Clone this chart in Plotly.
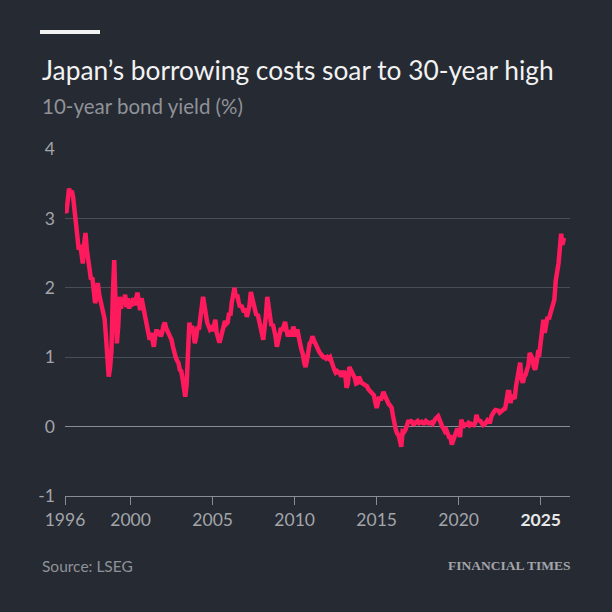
import pandas as pd
import plotly.graph_objects as go

# Monthly 10-year JGB yield (%), Jan 1996 onwards
y1996 = [3.12, 3.08, 3.25, 3.43, 3.35, 3.40, 3.30, 3.05, 2.98, 2.75, 2.55, 2.62]
y1997 = [2.50, 2.35, 2.62, 2.79, 2.55, 2.40, 2.30, 2.12, 2.15, 1.95, 1.78, 1.85]
y1998 = [2.07, 1.90, 1.80, 1.72, 1.64, 1.55, 1.30, 1.05, 0.72, 0.85, 1.10, 1.90]
y1999 = [2.40, 1.75, 1.20, 1.45, 1.87, 1.70, 1.85, 1.78, 1.90, 1.72, 1.85, 1.70]
y2000 = [1.80, 1.78, 1.85, 1.75, 1.90, 1.93, 1.80, 1.68, 1.85, 1.75, 1.70, 1.60]
y2001 = [1.50, 1.40, 1.25, 1.35, 1.28, 1.15, 1.30, 1.40, 1.32, 1.38, 1.30, 1.35]
y2002 = [1.45, 1.50, 1.42, 1.38, 1.35, 1.30, 1.25, 1.15, 1.05, 1.00, 0.95, 0.92]
y2003 = [0.82, 0.80, 0.70, 0.60, 0.43, 0.60, 1.00, 1.50, 1.35, 1.45, 1.35, 1.20]
y2004 = [1.30, 1.44, 1.40, 1.55, 1.70, 1.87, 1.75, 1.58, 1.50, 1.45, 1.40, 1.42]
y2005 = [1.38, 1.45, 1.54, 1.35, 1.25, 1.21, 1.28, 1.35, 1.44, 1.52, 1.48, 1.50]
y2006 = [1.64, 1.60, 1.78, 1.92, 2.00, 1.87, 1.90, 1.80, 1.72, 1.75, 1.68, 1.65]
y2007 = [1.70, 1.58, 1.65, 1.75, 1.94, 1.85, 1.73, 1.65, 1.60, 1.62, 1.50, 1.44]
y2008 = [1.35, 1.25, 1.40, 1.60, 1.87, 1.70, 1.54, 1.45, 1.48, 1.40, 1.30, 1.15]
y2009 = [1.25, 1.30, 1.42, 1.38, 1.48, 1.51, 1.40, 1.30, 1.35, 1.38, 1.30, 1.44]
y2010 = [1.38, 1.30, 1.40, 1.25, 1.20, 1.11, 1.05, 0.92, 0.86, 0.95, 1.15, 1.20]
y2011 = [1.22, 1.30, 1.25, 1.20, 1.15, 1.11, 1.08, 1.05, 1.02, 1.00, 1.00, 0.98]
y2012 = [1.00, 0.98, 1.00, 0.92, 0.85, 0.82, 0.78, 0.80, 0.78, 0.78, 0.72, 0.78]
y2013 = [0.80, 0.75, 0.56, 0.62, 0.86, 0.82, 0.78, 0.72, 0.70, 0.62, 0.63, 0.72]
y2014 = [0.65, 0.63, 0.62, 0.61, 0.60, 0.58, 0.54, 0.52, 0.51, 0.49, 0.45, 0.35]
y2015 = [0.27, 0.35, 0.43, 0.38, 0.45, 0.50, 0.45, 0.40, 0.36, 0.32, 0.30, 0.27]
y2016 = [0.15, 0.00, -0.04, -0.10, -0.12, -0.20, -0.29, -0.07, -0.08, -0.05, 0.02, 0.07]
y2017 = [0.07, 0.08, 0.07, 0.02, 0.05, 0.07, 0.08, 0.05, 0.06, 0.07, 0.05, 0.05]
y2018 = [0.08, 0.06, 0.05, 0.05, 0.06, 0.04, 0.10, 0.11, 0.13, 0.15, 0.10, 0.02]
y2019 = [0.00, -0.03, -0.07, -0.05, -0.09, -0.15, -0.15, -0.26, -0.20, -0.12, -0.09, -0.03]
y2020 = [-0.06, -0.15, 0.10, 0.03, 0.01, 0.03, 0.03, 0.05, 0.02, 0.04, 0.03, 0.02]
y2021 = [0.05, 0.17, 0.10, 0.09, 0.08, 0.05, 0.02, 0.03, 0.06, 0.09, 0.07, 0.07]
y2022 = [0.15, 0.20, 0.22, 0.24, 0.24, 0.23, 0.20, 0.22, 0.25, 0.25, 0.26, 0.42]
y2023 = [0.50, 0.50, 0.34, 0.45, 0.42, 0.40, 0.58, 0.72, 0.75, 0.92, 0.70, 0.63]
y2024 = [0.72, 0.75, 0.82, 0.88, 1.06, 1.00, 0.98, 0.86, 0.82, 0.92, 1.06, 1.05]
y2025 = [1.20, 1.35, 1.54, 1.35, 1.50, 1.58, 1.55, 1.62, 1.68, 1.75, 1.83, 2.10]
y2026 = [2.20, 2.35, 2.55, 2.78, 2.62, 2.72]

yields = (y1996 + y1997 + y1998 + y1999 + y2000 + y2001 + y2002 + y2003 + y2004
          + y2005 + y2006 + y2007 + y2008 + y2009 + y2010 + y2011 + y2012 + y2013
          + y2014 + y2015 + y2016 + y2017 + y2018 + y2019 + y2020 + y2021 + y2022
          + y2023 + y2024 + y2025 + y2026)
dates = pd.date_range("1996-01-01", periods=len(yields), freq="MS")

tick_years = [1996, 2000, 2005, 2010, 2015, 2020, 2025]
tick_vals = [f"{y}-01-01" for y in tick_years]
tick_text = [str(y) for y in tick_years[:-1]] + ["<span style='color:#e6e7e9'><b>2025</b></span>"]
y_ticks = [-1, 0, 1, 2, 3, 4]
y_tick_text = ["-1", "0", "1", "2", "3", "4"]

BG = "#262a33"
FONT = "Lato"

fig = go.Figure()
fig.add_trace(go.Scatter(
    x=dates, y=yields, mode="lines",
    line=dict(color="#ff1a5e", width=4.5, shape="linear"),
    hoverinfo="skip", showlegend=False,
))

fig.update_layout(
    width=612, height=612,
    paper_bgcolor=BG, plot_bgcolor=BG,
    margin=dict(l=65, r=42, t=149, b=116),
    font=dict(family=FONT, color="#a3a5aa"),
    xaxis=dict(
        type="date",
        range=["1996-01-01", "2026-10-15"],
        tickvals=tick_vals, ticktext=tick_text,
        showgrid=False, zeroline=False,
        showline=True, linecolor="#8a8d94", linewidth=1,
        ticks="outside", ticklen=8, tickcolor="#8a8d94", tickwidth=1,
        tickfont=dict(size=17.5, color="#a3a5aa", family=FONT),
        fixedrange=True,
    ),
    yaxis=dict(
        range=[-1, 4],
        tickvals=y_ticks, ticktext=y_tick_text,
        showgrid=True, gridcolor="#4a4e57", gridwidth=1,
        zeroline=True, zerolinecolor="#8a8d94", zerolinewidth=1,
        showline=False, ticks="",
        ticklabelstandoff=9,
        tickfont=dict(size=17.5, color="#a3a5aa", family=FONT),
        fixedrange=True,
    ),
    shapes=[dict(
        type="rect", xref="paper", yref="paper",
        x0=-0.0495, x1=0.0693, y0=1.3314, y1=1.3429,
        fillcolor="#f2f2f2", line=dict(width=0),
    )],
    annotations=[
        dict(text="Japan’s borrowing costs soar to 30-year high",
             xref="paper", yref="paper", x=-0.0495, y=1.2277,
             xanchor="left", yanchor="middle", showarrow=False,
             font=dict(size=26.3, color="#f2f2f2", family=FONT)),
        dict(text="10-year bond yield (%)",
             xref="paper", yref="paper", x=-0.0495, y=1.1239,
             xanchor="left", yanchor="middle", showarrow=False,
             font=dict(size=20.5, color="#8f9297", family=FONT)),
        dict(text="Source: LSEG",
             xref="paper", yref="paper", x=-0.0495, y=-0.2017,
             xanchor="left", yanchor="middle", showarrow=False,
             font=dict(size=15.5, color="#8f9297", family=FONT)),
        dict(text="<b>FINANCIAL TIMES</b>",
             xref="paper", yref="paper", x=1.004, y=-0.2017,
             xanchor="right", yanchor="middle", showarrow=False,
             font=dict(size=13.5, color="#a3a5aa", family="Liberation Serif")),
    ],
)

fig.write_html("out.html")
